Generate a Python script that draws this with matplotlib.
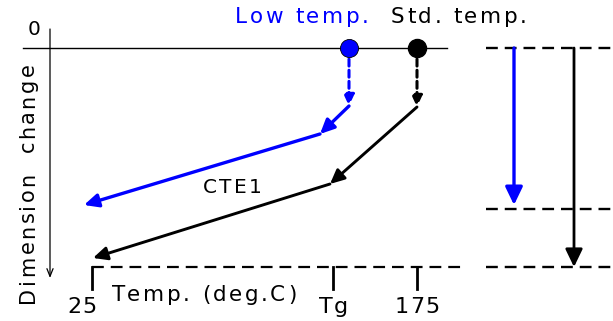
import matplotlib
matplotlib.use("Agg")
import matplotlib.pyplot as plt
from matplotlib.font_manager import FontProperties, findfont
from matplotlib.ft2font import FT2Font

plt.rcParams['lines.scale_dashes'] = False
FONT = 'DejaVu Sans'
DPI = 100

# Schematic geometry (diagram units = pixels, y grows downward)
zero_level = 48
base_level = 267
low_level = 209
tick_x = [92, 333, 417]
tick_labels = ["25", "Tg", "175"]

low_start = (349, 48)
low_knee_top = (349, 106)
low_knee = (320, 134)
low_end = (84, 205)

std_start = (417, 48)
std_knee_top = (417, 107)
std_knee = (330, 184)
std_end = (93, 258)

blue = '#0000ff'
black = '#000000'

fig = plt.figure(figsize=(6.13, 3.21), dpi=DPI)
ax = fig.add_axes([0, 0, 1, 1])
ax.set_xlim(0, 613)
ax.set_ylim(321, 0)
ax.axis('off')

_fp = FontProperties(family=FONT)
_font = FT2Font(findfont(_fp), hinting_factor=1)


def advances(s, size):
    _font.set_size(size, DPI)
    return [_font.load_char(ord(c)).linearHoriAdvance / 65536.0 for c in s]


def tracked_text(x, y, s, size, color=black, track=2.3, vertical=False):
    adv = advances(s, size)
    total = sum(adv) + track * (len(s) - 1)
    if not vertical:
        pen = x - total / 2.0
        for c, a in zip(s, adv):
            if c != ' ':
                ax.text(pen, y, c, fontsize=size, family=FONT, color=color,
                        ha='left', va='baseline', rotation_mode='anchor')
            pen += a + track
    else:
        pen = y + total / 2.0
        for c, a in zip(s, adv):
            if c != ' ':
                ax.text(x, pen, c, fontsize=size, family=FONT, color=color,
                        ha='left', va='baseline', rotation=90,
                        rotation_mode='anchor')
            pen -= a + track


def arrow(p0, p1, color, lw, ls='-', hw=0.45, hl=0.9):
    ax.annotate('', xy=p1, xytext=p0,
                arrowprops=dict(arrowstyle=f'-|>,head_width={hw},head_length={hl}',
                                color=color, lw=lw, linestyle=ls,
                                shrinkA=0, shrinkB=0))


# axes
ax.plot([23, 447], [zero_level, zero_level], color=black, lw=1.0)
ax.annotate('', xy=(50, 278), xytext=(50, 29),
            arrowprops=dict(arrowstyle='->,head_width=0.22,head_length=0.55',
                            color=black, lw=0.9, shrinkA=0, shrinkB=0))
tracked_text(34, 35, "0", 14.5)
tracked_text(34, 183, "Dimension  change", 15, vertical=True)

dash = (0, (8.5, 5))
# baseline dashed
ax.plot([92, 462], [base_level, base_level], color=black, lw=1.6, linestyle=dash)
for x, lab in zip(tick_x, tick_labels):
    ax.plot([x, x], [base_level, 289], color=black, lw=2.0)
    tracked_text(x - 10 if lab == "25" else x, 313, lab, 16, track=1.5)
tracked_text(204, 301, "Temp. (deg.C)", 15.5)

# blue path
arrow(low_start, low_knee_top, blue, 2.2, ls=(0, (5, 3)), hw=0.3, hl=0.65)
arrow(low_knee_top, low_knee, blue, 2.4, hw=0.4, hl=0.85)
arrow(low_knee, low_end, blue, 2.4, hw=0.4, hl=0.85)
ax.plot(*low_start, 'o', ms=13, color=blue, mec=black, mew=0.6, zorder=5)

# black path
arrow(std_start, std_knee_top, black, 2.2, ls=(0, (5, 3)), hw=0.3, hl=0.65)
arrow(std_knee_top, std_knee, black, 2.1, hw=0.4, hl=0.85)
arrow(std_knee, std_end, black, 2.1, hw=0.4, hl=0.85)
ax.plot(*std_start, 'o', ms=13, color=black, zorder=5)

tracked_text(232, 193, "CTE1", 14.5)
tracked_text(302, 23, "Low temp.", 15.5, color=blue)
tracked_text(459, 23, "Std. temp.", 15.5, color=black)

# right side levels
for y in (zero_level, low_level, base_level):
    ax.plot([486, 613], [y, y], color=black, lw=1.7, linestyle=dash)
arrow((514, zero_level), (514, 205), blue, 2.4, hw=0.52, hl=1.08)
arrow((574, zero_level), (574, 267), black, 2.0, hw=0.52, hl=1.08)

fig.savefig("out.png", dpi=DPI)
